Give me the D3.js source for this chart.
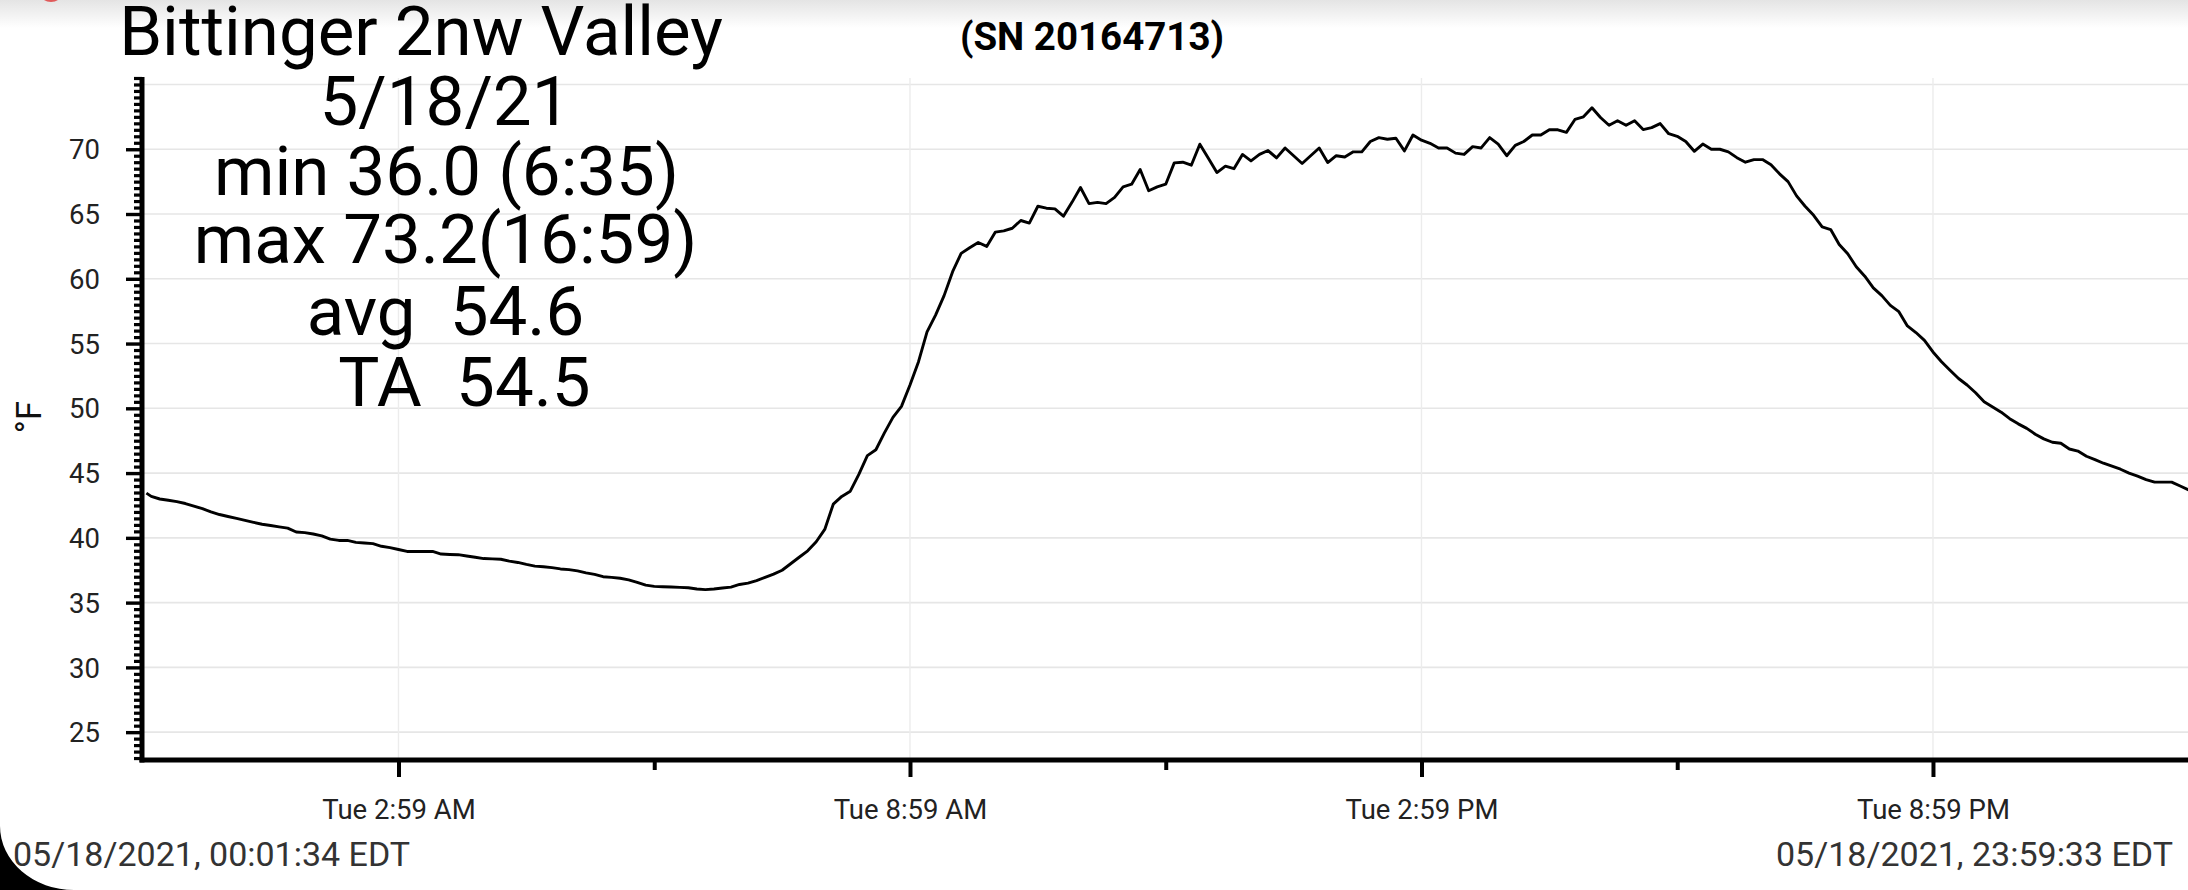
<!DOCTYPE html>
<html><head><meta charset="utf-8">
<script src="https://cdn.jsdelivr.net/npm/d3@7"></script>
<style>
html,body{margin:0;padding:0;background:#fff;}
svg{display:block;font-family:Roboto,"Noto Sans",sans-serif;}
.pre{white-space:pre;}
</style></head><body>
<svg id="chart" width="2188" height="890"></svg>
<script>
// ---------- data ----------
const titleText = "Bittinger 2nw Valley";
const statLines = ["5/18/21", "min 36.0 (6:35)", "max 73.2(16:59)", "avg  54.6", "TA  54.5"];
const serialLabel = "(SN 20164713)";
const yAxisLabel = "°F";
const yTickValues = [25, 30, 35, 40, 45, 50, 55, 60, 65, 70];
const yGridValues = [25, 30, 35, 40, 45, 50, 55, 60, 65, 70, 75];
const dayDate = "2021-05-18";
const startTime = "00:01:34";
const endTime = "23:59:33";
const firstRegularReading = "00:05:00";
const intervalMinutes = 6;
const xMajorTickTimes = ["02:59:00", "08:59:00", "14:59:00", "20:59:00"];
const xMinorTickTimes = ["05:59:00", "11:59:00", "17:59:00"];
const footerStart = "05/18/2021, 00:01:34 EDT";
const footerEnd = "05/18/2021, 23:59:33 EDT";
const temperatures = [
 43.45, 43.2, 43.0, 42.9, 42.8, 42.65, 42.45, 42.25, 42.0, 41.8,
 41.65, 41.5, 41.35, 41.2, 41.05, 40.95, 40.85, 40.75, 40.45, 40.4,
 40.3, 40.15, 39.9, 39.8, 39.8, 39.65, 39.6, 39.55, 39.35, 39.25,
 39.1, 38.95, 38.95, 38.95, 38.95, 38.75, 38.72, 38.7, 38.6, 38.5,
 38.4, 38.38, 38.35, 38.2, 38.1, 37.95, 37.82, 37.77, 37.7, 37.6,
 37.55, 37.45, 37.3, 37.18, 37.0, 36.95, 36.88, 36.75, 36.57, 36.35,
 36.25, 36.22, 36.2, 36.18, 36.15, 36.05, 36.0, 36.05, 36.13, 36.2,
 36.4, 36.5, 36.7, 36.95, 37.2, 37.5, 38.0, 38.5, 39.0, 39.7,
 40.65, 42.6, 43.2, 43.6, 44.9, 46.35, 46.8, 48.1, 49.3, 50.15,
 51.8, 53.6, 55.9, 57.2, 58.7, 60.55, 61.96, 62.4, 62.8, 62.5,
 63.6, 63.7, 63.9, 64.5, 64.3, 65.6, 65.45, 65.4, 64.83, 65.9,
 67.05, 65.8, 65.9, 65.8, 66.28, 67.1, 67.3, 68.43, 66.8, 67.1,
 67.3, 68.95, 69.0, 68.77, 70.39, 69.3, 68.2, 68.7, 68.5, 69.6,
 69.1, 69.6, 69.9, 69.33, 70.1, 69.5, 68.9, 69.5, 70.1, 68.97,
 69.5, 69.4, 69.8, 69.8, 70.6, 70.9, 70.77, 70.85, 69.87, 71.1,
 70.7, 70.46, 70.1, 70.1, 69.7, 69.6, 70.2, 70.1, 70.9, 70.4,
 69.5, 70.3, 70.6, 71.1, 71.1, 71.5, 71.5, 71.3, 72.3, 72.5,
 73.2, 72.45, 71.85, 72.2, 71.85, 72.2, 71.52, 71.67, 71.98, 71.2,
 71.0, 70.6, 69.84, 70.4, 70.0, 70.0, 69.8, 69.35, 69.0, 69.2,
 69.2, 68.8, 68.1, 67.5, 66.4, 65.6, 64.9, 64.0, 63.8, 62.65,
 61.93, 60.93, 60.2, 59.3, 58.7, 57.95, 57.46, 56.36, 55.85, 55.25,
 54.35, 53.6, 52.94, 52.3, 51.8, 51.2, 50.5, 50.1, 49.7, 49.2,
 48.8, 48.45, 48.0, 47.64, 47.38, 47.3, 46.86, 46.7, 46.3, 46.04,
 45.76, 45.53, 45.3, 45.0, 44.76, 44.5, 44.3, 44.3, 44.3, 44.0,
 43.7
];

// ---------- build ----------
const parse = d3.timeParse("%Y-%m-%d %H:%M:%S");
const tStart = parse(dayDate + " " + startTime);
const tEnd = parse(dayDate + " " + endTime);
const tFirst = parse(dayDate + " " + firstRegularReading);
const times = [tStart].concat(d3.range(temperatures.length - 1).map(k => d3.timeMinute.offset(tFirst, k * intervalMinutes)));
const data = temperatures.map((v, i) => ({t: times[i], v}));
const majorTicks = xMajorTickTimes.map(s => parse(dayDate + " " + s));
const minorTicks = xMinorTickTimes.map(s => parse(dayDate + " " + s));

const W = 2188, H = 890;
const plotLeft = 142, plotTop = 78, plotBottom = 760;
const svg = d3.select("#chart");

const x = d3.scaleTime().domain([tStart, tEnd]).range([146.4, 2189.5]);
const y = d3.scaleLinear().domain([22.85, 75.5]).range([plotBottom, plotTop]);

// background + top shade
const defs = svg.append("defs");
const g1 = defs.append("linearGradient").attr("id", "topShade").attr("x1", 0).attr("y1", 0).attr("x2", 0).attr("y2", 1);
g1.append("stop").attr("offset", "0%").attr("stop-color", "#e4e4e4");
g1.append("stop").attr("offset", "100%").attr("stop-color", "#ffffff");
svg.append("rect").attr("width", W).attr("height", H).attr("fill", "#fff");
svg.append("rect").attr("width", W).attr("height", 28).attr("fill", "url(#topShade)");
svg.append("ellipse").attr("cx", 51).attr("cy", -5).attr("rx", 10).attr("ry", 7).attr("fill", "#e05a5a");

defs.append("clipPath").attr("id", "plotClip").append("rect")
  .attr("x", plotLeft).attr("y", 0).attr("width", W - plotLeft).attr("height", plotBottom);

// grid
svg.append("g").selectAll("line").data(yGridValues).join("line")
  .attr("x1", plotLeft).attr("x2", W).attr("y1", d => y(d)).attr("y2", d => y(d))
  .attr("stroke", "#e6e6e6").attr("stroke-width", 1.6);
svg.append("g").selectAll("line").data(majorTicks).join("line")
  .attr("x1", d => x(d)).attr("x2", d => x(d)).attr("y1", plotTop).attr("y2", plotBottom)
  .attr("stroke", "#ececec").attr("stroke-width", 1.4);

// line
svg.append("path").datum(data)
  .attr("clip-path", "url(#plotClip)")
  .attr("fill", "none").attr("stroke", "#000").attr("stroke-width", 2.9)
  .attr("stroke-linejoin", "round")
  .attr("d", d3.line().x(d => x(d.t)).y(d => y(d.v)));

// y axis major
const yMajor = svg.append("g").attr("transform", `translate(${plotLeft},0)`)
  .call(d3.axisLeft(y).tickValues(yTickValues).tickSize(16).tickPadding(26).tickFormat(d3.format("d")));
yMajor.select(".domain").remove();
yMajor.selectAll(".tick line").attr("stroke", "#000").attr("stroke-width", 3.4);
yMajor.selectAll(".tick text").attr("font-size", 27.5).attr("fill", "#222")
  .attr("font-family", "Roboto").attr("dy", "0.35em");
// y axis minor
const minorY = d3.range(23, 75.6, 0.5).filter(v => !yTickValues.includes(v));
const yMinor = svg.append("g").attr("transform", `translate(${plotLeft},0)`)
  .call(d3.axisLeft(y).tickValues(minorY).tickSize(8).tickFormat(""));
yMinor.select(".domain").remove();
yMinor.selectAll(".tick line").attr("stroke", "#000").attr("stroke-width", 3.2);

// x axis
const xAxis = svg.append("g").attr("transform", `translate(0,${plotBottom})`)
  .call(d3.axisBottom(x).tickValues(majorTicks).tickSize(17).tickFormat(d3.timeFormat("%a %-I:%M %p")));
xAxis.select(".domain").remove();
xAxis.selectAll(".tick line").attr("stroke", "#000").attr("stroke-width", 4);
xAxis.selectAll(".tick text").attr("font-size", 27.5).attr("fill", "#222")
  .attr("font-family", "Roboto").attr("y", 59).attr("dy", 0);
const xMinor = svg.append("g").attr("transform", `translate(0,${plotBottom})`)
  .call(d3.axisBottom(x).tickValues(minorTicks).tickSize(10).tickFormat(""));
xMinor.select(".domain").remove();
xMinor.selectAll(".tick line").attr("stroke", "#000").attr("stroke-width", 4);

// axis lines
svg.append("line").attr("x1", plotLeft).attr("x2", plotLeft).attr("y1", plotTop - 1).attr("y2", plotBottom + 2.5)
  .attr("stroke", "#000").attr("stroke-width", 5);
svg.append("line").attr("x1", plotLeft - 2.5).attr("x2", W).attr("y1", plotBottom).attr("y2", plotBottom)
  .attr("stroke", "#000").attr("stroke-width", 5);

// y label
svg.append("text").attr("transform", "translate(41,417) rotate(-90)")
  .attr("text-anchor", "middle").attr("font-size", 35).attr("fill", "#111").text(yAxisLabel);

// titles
svg.append("text").attr("x", 421).attr("y", 55).attr("text-anchor", "middle")
  .attr("font-size", 69).attr("fill", "#000").text(titleText);
const statCenters = [445, 446.5, 445.5, 445.5, 464.5];
const statBaselines = [125, 195, 263, 335, 406];
svg.append("g").selectAll("text").data(statLines).join("text")
  .attr("class", "pre")
  .attr("x", (d, i) => statCenters[i]).attr("y", (d, i) => statBaselines[i])
  .attr("text-anchor", "middle").attr("font-size", 69).attr("fill", "#000").text(d => d);
svg.append("text").attr("x", 1092).attr("y", 50).attr("text-anchor", "middle")
  .attr("font-size", 38.5).attr("font-weight", "bold").attr("fill", "#000").text(serialLabel);

// footer
svg.append("text").attr("x", 13).attr("y", 866).attr("font-size", 34).attr("fill", "#333").text(footerStart);
svg.append("text").attr("x", 2173).attr("y", 866).attr("text-anchor", "end").attr("font-size", 34).attr("fill", "#333").text(footerEnd);

// rounded screen corner
svg.append("path").attr("d", "M0,826 A74,64 0 0 0 74,890 L0,890 Z").attr("fill", "#000");
</script>
</body></html>
